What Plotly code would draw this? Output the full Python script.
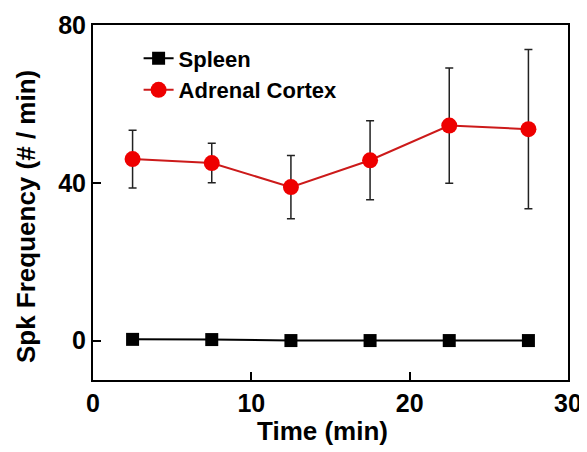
import plotly.graph_objects as go

time_min = [2.5, 7.5, 12.5, 17.5, 22.5, 27.5]
spleen = [0.3, 0.25, 0.0, 0.0, 0.0, 0.0]
adrenal = [46.0, 45.0, 38.9, 45.7, 54.5, 53.6]
adrenal_err = [7.3, 5.0, 8.0, 10.0, 14.6, 20.2]
x_ticks = [0, 10, 20, 30]
y_ticks = [0, 40, 80]

FONT = "Liberation Sans, Arial, sans-serif"

fig = go.Figure()
fig.add_trace(go.Scatter(
    x=time_min, y=spleen, name="<b>Spleen</b>", mode="lines+markers",
    line=dict(color="black", width=2),
    marker=dict(symbol="square", size=13, color="black"),
))
fig.add_trace(go.Scatter(
    x=time_min, y=adrenal, name="<b>Adrenal Cortex</b>", mode="lines+markers",
    line=dict(color="#cc1a1a", width=2),
    marker=dict(symbol="circle", size=16, color="#ee0000"),
    error_y=dict(type="data", array=adrenal_err, visible=True,
                 color="#222222", thickness=1.5, width=4),
))

axis_common = dict(
    showline=True, linecolor="black", linewidth=2, mirror=True,
    ticks="inside", ticklen=8, tickwidth=2, tickcolor="black",
    showgrid=False, zeroline=False, automargin=False,
    tickfont=dict(family=FONT, size=25, color="black"),
)
fig.update_xaxes(range=[0, 30], tickvals=x_ticks,
                 ticktext=[f"<b>{v}</b>" for v in x_ticks],
                 **axis_common)
fig.update_yaxes(range=[-10, 80], tickvals=y_ticks,
                 ticktext=[f"<b>{v}</b>" for v in y_ticks],
                 **axis_common)

fig.add_annotation(text="<b>Time (min)</b>", xref="paper", yref="paper",
                   x=0.483, y=-0.144, xanchor="center", yanchor="middle",
                   showarrow=False, font=dict(family=FONT, size=26, color="black"))
fig.add_annotation(text="<b>Spk Frequency (# / min)</b>", xref="paper", yref="paper",
                   x=-0.141, y=0.459, xanchor="center", yanchor="middle",
                   textangle=-90, showarrow=False,
                   font=dict(family=FONT, size=26, color="black"))

fig.update_layout(
    width=579, height=444,
    margin=dict(l=85, r=19, t=17, b=72, autoexpand=False),
    plot_bgcolor="white", paper_bgcolor="white",
    font=dict(family=FONT, color="black"),
    legend=dict(x=0.096, y=0.965, xanchor="left", yanchor="top",
                font=dict(family=FONT, size=22, color="black"),
                bgcolor="rgba(0,0,0,0)", tracegroupgap=0),
    showlegend=True,
)
fig.write_html("out.html")
